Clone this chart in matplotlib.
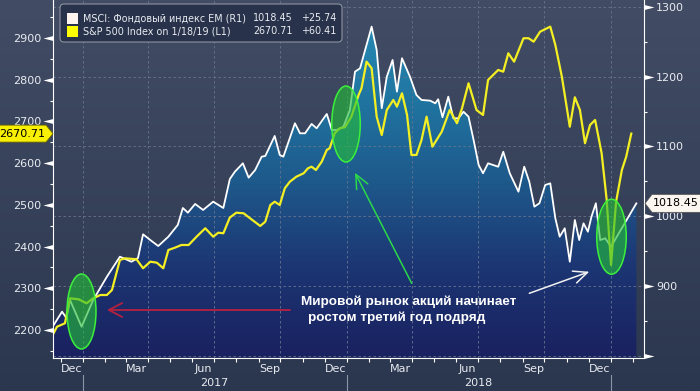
import matplotlib
matplotlib.use("Agg")
import matplotlib.pyplot as plt
import matplotlib.dates as mdates
import matplotlib.ticker as mticker
import matplotlib.transforms as mtransforms
from matplotlib.colors import LinearSegmentedColormap
from matplotlib.patches import Ellipse, Polygon, Rectangle, FancyBboxPatch
from matplotlib.path import Path
import numpy as np
import pandas as pd

W, H = 700, 391

# MSCI EM (right axis, white line with filled area)
msci_dates = [
    "2016-11-20", "2016-12-03", "2016-12-09", "2016-12-14", "2016-12-30",
    "2017-01-15", "2017-02-03", "2017-02-21", "2017-03-09", "2017-03-18",
    "2017-03-25", "2017-04-04", "2017-04-15", "2017-04-29", "2017-05-12",
    "2017-05-19", "2017-05-26", "2017-06-05", "2017-06-16", "2017-06-30",
    "2017-07-14", "2017-07-23", "2017-07-30", "2017-08-10", "2017-08-18",
    "2017-08-27", "2017-09-05", "2017-09-10", "2017-09-23", "2017-09-30",
    "2017-10-05", "2017-10-21", "2017-10-28", "2017-11-04", "2017-11-13",
    "2017-11-20", "2017-12-04", "2017-12-11", "2017-12-18", "2017-12-27",
    "2018-01-05", "2018-01-12", "2018-01-19", "2018-02-04", "2018-02-11",
    "2018-02-18", "2018-02-25", "2018-03-05", "2018-03-11", "2018-03-18",
    "2018-03-29", "2018-04-07", "2018-04-14", "2018-04-26", "2018-05-03",
    "2018-05-07", "2018-05-13", "2018-05-21", "2018-05-28", "2018-06-04",
    "2018-06-11", "2018-06-18", "2018-06-25", "2018-07-02", "2018-07-08",
    "2018-07-15", "2018-07-29", "2018-08-05", "2018-08-14", "2018-08-26",
    "2018-09-03", "2018-09-10", "2018-09-17", "2018-09-24", "2018-10-02",
    "2018-10-09", "2018-10-16", "2018-10-22", "2018-10-29", "2018-11-05",
    "2018-11-12", "2018-11-18", "2018-11-24", "2018-11-30", "2018-12-05",
    "2018-12-11", "2018-12-17", "2018-12-24", "2019-01-01", "2019-01-09",
    "2019-02-05",
]
msci_values = [
    841.6, 863.2, 854.1, 879.9, 841.6,
    879.9, 913.3, 942.0, 934.8, 940.1,
    974.1, 965.9, 957.3, 970.7, 987.5,
    1011.8, 1005.1, 1017.6, 1009.0, 1020.9,
    1011.8, 1053.4, 1063.9, 1075.9, 1055.3,
    1066.3, 1085.4, 1086.4, 1115.1, 1087.8,
    1085.4, 1133.3, 1118.9, 1118.9, 1132.3,
    1126.1, 1146.6, 1123.7, 1123.7, 1128.4,
    1152.3, 1207.2, 1212.1, 1271.8, 1238.4,
    1154.8, 1200.1, 1224.0, 1178.6, 1226.5,
    1200.1, 1173.8, 1166.7, 1165.7, 1161.9,
    1167.7, 1141.9, 1171.4, 1140.4, 1140.4,
    1149.9, 1142.7, 1109.3, 1073.5, 1061.6,
    1075.9, 1071.0, 1092.5, 1061.6, 1035.2,
    1071.0, 1049.5, 1013.7, 1018.6, 1044.8,
    1047.2, 997.1, 970.7, 982.7, 934.8,
    994.6, 965.9, 989.9, 977.8, 999.4,
    1018.6, 965.9, 968.4, 956.3, 970.7,
    1018.45,
]

# S&P 500 (left axis, yellow line)
spx_dates = [
    "2016-11-20", "2016-11-26", "2016-12-07", "2016-12-14", "2016-12-26",
    "2017-01-06", "2017-01-15", "2017-01-25", "2017-02-03", "2017-02-10",
    "2017-02-21", "2017-02-28", "2017-03-16", "2017-03-25", "2017-04-04",
    "2017-04-13", "2017-04-22", "2017-04-29", "2017-05-08", "2017-05-17",
    "2017-05-27", "2017-06-07", "2017-06-19", "2017-06-30", "2017-07-07",
    "2017-07-14", "2017-07-23", "2017-08-01", "2017-08-11", "2017-08-20",
    "2017-09-03", "2017-09-10", "2017-09-17", "2017-09-23", "2017-09-30",
    "2017-10-07", "2017-10-14", "2017-10-23", "2017-11-02", "2017-11-08",
    "2017-11-13", "2017-11-19", "2017-11-27", "2017-12-04", "2017-12-08",
    "2017-12-15", "2017-12-22", "2017-12-29", "2018-01-07", "2018-01-17",
    "2018-01-21", "2018-01-28", "2018-02-04", "2018-02-11", "2018-02-18",
    "2018-02-25", "2018-03-06", "2018-03-11", "2018-03-18", "2018-03-25",
    "2018-03-31", "2018-04-07", "2018-04-14", "2018-04-21", "2018-04-29",
    "2018-05-12", "2018-05-23", "2018-06-02", "2018-06-09", "2018-06-18",
    "2018-06-29", "2018-07-08", "2018-07-15", "2018-07-29", "2018-08-05",
    "2018-08-12", "2018-08-20", "2018-09-02", "2018-09-09", "2018-09-16",
    "2018-09-25", "2018-10-09", "2018-10-16", "2018-10-25", "2018-11-05",
    "2018-11-12", "2018-11-19", "2018-11-26", "2018-12-03", "2018-12-10",
    "2018-12-19", "2018-12-26", "2019-01-01", "2019-01-08", "2019-01-16",
    "2019-01-22", "2019-01-29",
]
spx_values = [
    2187.9, 2207.8, 2216.0, 2275.9, 2273.5,
    2263.9, 2275.9, 2283.8, 2283.8, 2295.8,
    2367.8, 2371.8, 2369.4, 2347.9, 2363.7,
    2361.3, 2347.9, 2391.7, 2397.2, 2403.7,
    2403.7, 2423.6, 2443.8, 2423.6, 2433.2,
    2431.8, 2469.6, 2481.2, 2479.7, 2467.7,
    2449.3, 2459.6, 2499.6, 2507.5, 2499.6,
    2539.7, 2555.5, 2567.5, 2575.6, 2587.6,
    2591.4, 2583.5, 2603.4, 2631.5, 2635.6,
    2671.5, 2683.5, 2685.9, 2711.3, 2763.3,
    2779.4, 2843.2, 2827.4, 2711.3, 2667.4,
    2727.4, 2751.4, 2735.3, 2767.4, 2715.4,
    2619.5, 2619.5, 2655.5, 2711.3, 2639.4,
    2675.4, 2727.4, 2695.5, 2731.5, 2791.4,
    2727.4, 2715.4, 2799.3, 2823.3, 2819.2,
    2863.3, 2843.2, 2899.3, 2899.3, 2891.1,
    2915.1, 2927.1, 2883.2, 2807.2, 2687.3,
    2757.8, 2727.4, 2647.5, 2691.4, 2703.4,
    2623.6, 2511.6, 2355.8, 2507.5, 2583.5,
    2615.4, 2670.71,
]

msci_label = "MSCI: Фондовый индекс EM (R1)"
spx_label = "S&P 500 Index on 1/18/19 (L1)"
msci_last, msci_change = "1018.45", "+25.74"
spx_last, spx_change = "2670.71", "+60.41"
year_labels = ["2017", "2018"]
note_line1 = "Мировой рынок акций начинает"
note_line2 = "ростом третий год подряд"

BG_TOP, BG_BOTTOM = "#424d65", "#2b374f"
TEXT = "#e8ebf0"
YELLOW = "#f4ef22"
GRID = "#66758f"

plt.rcParams["font.family"] = ["DejaVu Sans"]

fig = plt.figure(figsize=(W / 100, H / 100), dpi=100)
fig.patch.set_facecolor(BG_BOTTOM)

# background gradient
bg = fig.add_axes([0, 0, 1, 1], zorder=-10)
bg_cmap = LinearSegmentedColormap.from_list("bg", [BG_TOP, BG_BOTTOM])
bg.imshow(np.linspace(0, 1, 256).reshape(-1, 1), cmap=bg_cmap, aspect="auto",
          extent=[0, 1, 0, 1], origin="upper")
bg.axis("off")

ax = fig.add_axes([53 / W, 1 - 357.5 / H, (644 - 53) / W, 357.5 / H])
ax2 = ax.twinx()
ax.set_zorder(2)
ax2.set_zorder(1)
ax.patch.set_visible(False)
ax2.patch.set_visible(False)

L_LIM = (2134, 2991)
R_LIM = (797.5, 1310)

x_msci = mdates.date2num(pd.to_datetime(msci_dates))
x_spx = mdates.date2num(pd.to_datetime(spx_dates))

# gradient area under the MSCI line
fill_cmap = LinearSegmentedColormap.from_list(
    "fill", [(0.0, "#1a2160"), (0.25, "#1c3573"), (0.5, "#1e5a8c"),
             (0.75, "#2078a3"), (1.0, "#2a90b8")])
poly = ax2.fill_between(x_msci, msci_values, R_LIM[0], facecolor="none",
                        edgecolor="none")
grad = ax2.imshow(np.linspace(0, 1, 256).reshape(-1, 1), cmap=fill_cmap,
                  origin="lower", aspect="auto", zorder=0.5,
                  extent=[x_msci[0], x_msci[-1], R_LIM[0], R_LIM[1]])
grad.set_clip_path(poly.get_paths()[0], ax2.transData)

ax2.plot(x_msci, msci_values, color="white", lw=1.3, zorder=2)
ax.plot(x_spx, spx_values, color=YELLOW, lw=1.6, zorder=2)

xlim = mdates.date2num([pd.Timestamp("2016-11-20 12:00"),
                        pd.Timestamp("2019-02-15 14:00")])
ax.set_xlim(xlim)
ax.set_ylim(L_LIM)
ax2.set_ylim(R_LIM)

# grid (drawn on the lower axes so it sits under the lines)
ax2.yaxis.set_major_locator(mticker.MultipleLocator(100))
ax2.yaxis.set_minor_locator(mticker.MultipleLocator(50))
ax2.grid(axis="y", which="major", color=GRID, lw=0.6, ls=(0, (3, 3)), zorder=1)
for q in pd.date_range("2017-01-01", "2019-01-01", freq="QS"):
    ax2.axvline(mdates.date2num(q), color=GRID, lw=0.6, ls=(0, (3, 3)), zorder=1)

# x axis: month ticks, quarter labels mid-month
month_starts = pd.date_range("2016-12-01", "2019-02-01", freq="MS")
label_dates = pd.date_range("2016-12-01", "2018-12-01", freq="3MS") + pd.Timedelta(days=15)
ax.xaxis.set_major_locator(mticker.FixedLocator(mdates.date2num(label_dates)))
ax.xaxis.set_major_formatter(mdates.DateFormatter("%b"))
ax.xaxis.set_minor_locator(mticker.FixedLocator(mdates.date2num(month_starts)))
ax.tick_params(axis="x", which="major", length=0, pad=5, labelsize=8, labelcolor=TEXT)
ax.tick_params(axis="x", which="minor", length=3, width=0.8, color="white")

# y axes
ax.yaxis.set_major_locator(mticker.MultipleLocator(100))
ax.yaxis.set_minor_locator(mticker.MultipleLocator(50))
ax.tick_params(axis="y", which="major", length=7.2, width=0, pad=1.5,
               labelsize=8, labelcolor=TEXT, color="white")
ax.tick_params(axis="y", which="minor", length=2.2, width=0.8, color="white")
ax2.tick_params(axis="y", which="major", length=7.2, width=0, pad=1.5,
                labelsize=8, labelcolor=TEXT, color="white")
ax2.tick_params(axis="y", which="minor", length=2.2, width=0.8, color="white")
ax2.yaxis.set_major_formatter(
    mticker.FuncFormatter(lambda v, _: "" if v < 850 else f"{v:.0f}"))

caret_left = Path([(0, -0.25), (-1, 0), (0, 0.25), (0, -0.25)],
                  [Path.MOVETO, Path.LINETO, Path.LINETO, Path.CLOSEPOLY])
caret_right = Path([(0, -0.25), (1, 0), (0, 0.25), (0, -0.25)],
                   [Path.MOVETO, Path.LINETO, Path.LINETO, Path.CLOSEPOLY])
for t in ax.yaxis.get_major_ticks():
    t.tick1line.set_marker(caret_left)
    t.tick1line.set_markersize(14.4)
    t.tick1line.set_markerfacecolor("white")
for t in ax2.yaxis.get_major_ticks():
    t.tick2line.set_marker(caret_right)
    t.tick2line.set_markersize(14.4)
    t.tick2line.set_markerfacecolor("white")

for s in ["top", "right"]:
    ax.spines[s].set_visible(False)
for s in ["top", "left", "bottom"]:
    ax2.spines[s].set_visible(False)
ax.spines["left"].set_color("white")
ax.spines["bottom"].set_color("white")
ax2.spines["right"].set_color("white")

# year separators and labels under the month labels
sep_tr = mtransforms.blended_transform_factory(ax.transData, fig.transFigure)
for i, ys in enumerate(pd.date_range("2017-01-01", "2019-01-01", freq="YS")):
    xs = mdates.date2num(ys)
    ax.plot([xs, xs], [0, 16 / H], transform=sep_tr, color="#8a95a8",
            lw=0.8, clip_on=False)
    if i < len(year_labels):
        xm = mdates.date2num(ys + pd.Timedelta(days=182))
        ax.text(xm, 7.5 / H, year_labels[i], transform=sep_tr, ha="center",
                va="center", fontsize=8, color=TEXT)

PIX = mtransforms.IdentityTransform()

# value tags on the axes
y_spx = ax.transData.transform((xlim[0], spx_values[-1]))[1]
fig.add_artist(Polygon([(-5, y_spx - 8.5), (46, y_spx - 8.5), (53, y_spx),
                        (46, y_spx + 8.5), (-5, y_spx + 8.5)],
                       closed=True, transform=PIX, facecolor="#f8f000",
                       edgecolor="#6b6500", lw=0.6, zorder=10))
fig.text(22, y_spx, spx_last, transform=PIX, ha="center", va="center",
         fontsize=8, color="black", zorder=11)

y_msci = ax2.transData.transform((xlim[0], msci_values[-1]))[1]
fig.add_artist(Polygon([(645, y_msci), (652, y_msci + 9), (705, y_msci + 9),
                        (705, y_msci - 9), (652, y_msci - 9)],
                       closed=True, transform=PIX, facecolor="#fbf6f0",
                       edgecolor="#555555", lw=0.6, zorder=10))
fig.text(676, y_msci, msci_last, transform=PIX, ha="center", va="center",
         fontsize=8, color="black", zorder=11)

# legend box
fig.add_artist(FancyBboxPatch((60, H - 42), 282, 38,
                              boxstyle="round,pad=0,rounding_size=4",
                              transform=PIX, facecolor="#28334b",
                              edgecolor="#8c929c", lw=0.8, zorder=10))
fig.add_artist(Rectangle((67, H - 23.5), 11, 10.5, transform=PIX,
                         facecolor="#fdf4f0", edgecolor="none", zorder=11))
fig.add_artist(Rectangle((67, H - 36.5), 11, 10.5, transform=PIX,
                         facecolor="#ffff00", edgecolor="none", zorder=11))
rows = [(msci_label, msci_last, msci_change, 18.3),
        (spx_label, spx_last, spx_change, 31.5)]
for name, last, chg, yy in rows:
    fig.text(83, H - yy, name, transform=PIX, ha="left", va="center",
             fontsize=6.9, color=TEXT, zorder=12)
    fig.text(293, H - yy, last, transform=PIX, ha="right", va="center",
             fontsize=6.9, color=TEXT, zorder=12)
    fig.text(337, H - yy, chg, transform=PIX, ha="right", va="center",
             fontsize=6.9, color=TEXT, zorder=12)

# highlight ellipses
for cx, cy, ew, eh in [(81.5, 311.5, 29, 75), (346, 124, 28.5, 76),
                       (611.5, 236.7, 29.5, 75)]:
    fig.add_artist(Ellipse((cx, H - cy), ew, eh, transform=PIX,
                           facecolor=(0.14, 0.74, 0.22, 0.62),
                           edgecolor="#3cf03c", lw=1.1, zorder=8))

# arrows
arrow_kw = dict(xycoords="figure pixels", textcoords="figure pixels")
ax.annotate("", xy=(107, H - 310), xytext=(290, H - 310),
            arrowprops=dict(arrowstyle="->,head_length=0.95,head_width=0.5",
                            color="#b5213e", lw=1.3, shrinkA=0, shrinkB=0),
            annotation_clip=False, **arrow_kw)
ax.annotate("", xy=(355, H - 172.7), xytext=(411.7, H - 283.3),
            arrowprops=dict(arrowstyle="->,head_length=1.0,head_width=0.45",
                            color="#2bd84a", lw=1.1, shrinkA=0, shrinkB=0),
            annotation_clip=False, **arrow_kw)
ax.annotate("", xy=(589.3, H - 271.7), xytext=(529.3, H - 293.3),
            arrowprops=dict(arrowstyle="->,head_length=1.0,head_width=0.45",
                            color="#f2f2f2", lw=1.1, shrinkA=0, shrinkB=0),
            annotation_clip=False, **arrow_kw)

fig.text(301, H - 302, note_line1, transform=PIX, ha="left", va="center",
         fontsize=9.7, fontweight="bold", family="Liberation Sans",
         color="white", zorder=12)
fig.text(308, H - 318, note_line2, transform=PIX, ha="left", va="center",
         fontsize=9.7, fontweight="bold", family="Liberation Sans",
         color="white", zorder=12)

fig.savefig("out.png", dpi=100, facecolor=fig.get_facecolor())
